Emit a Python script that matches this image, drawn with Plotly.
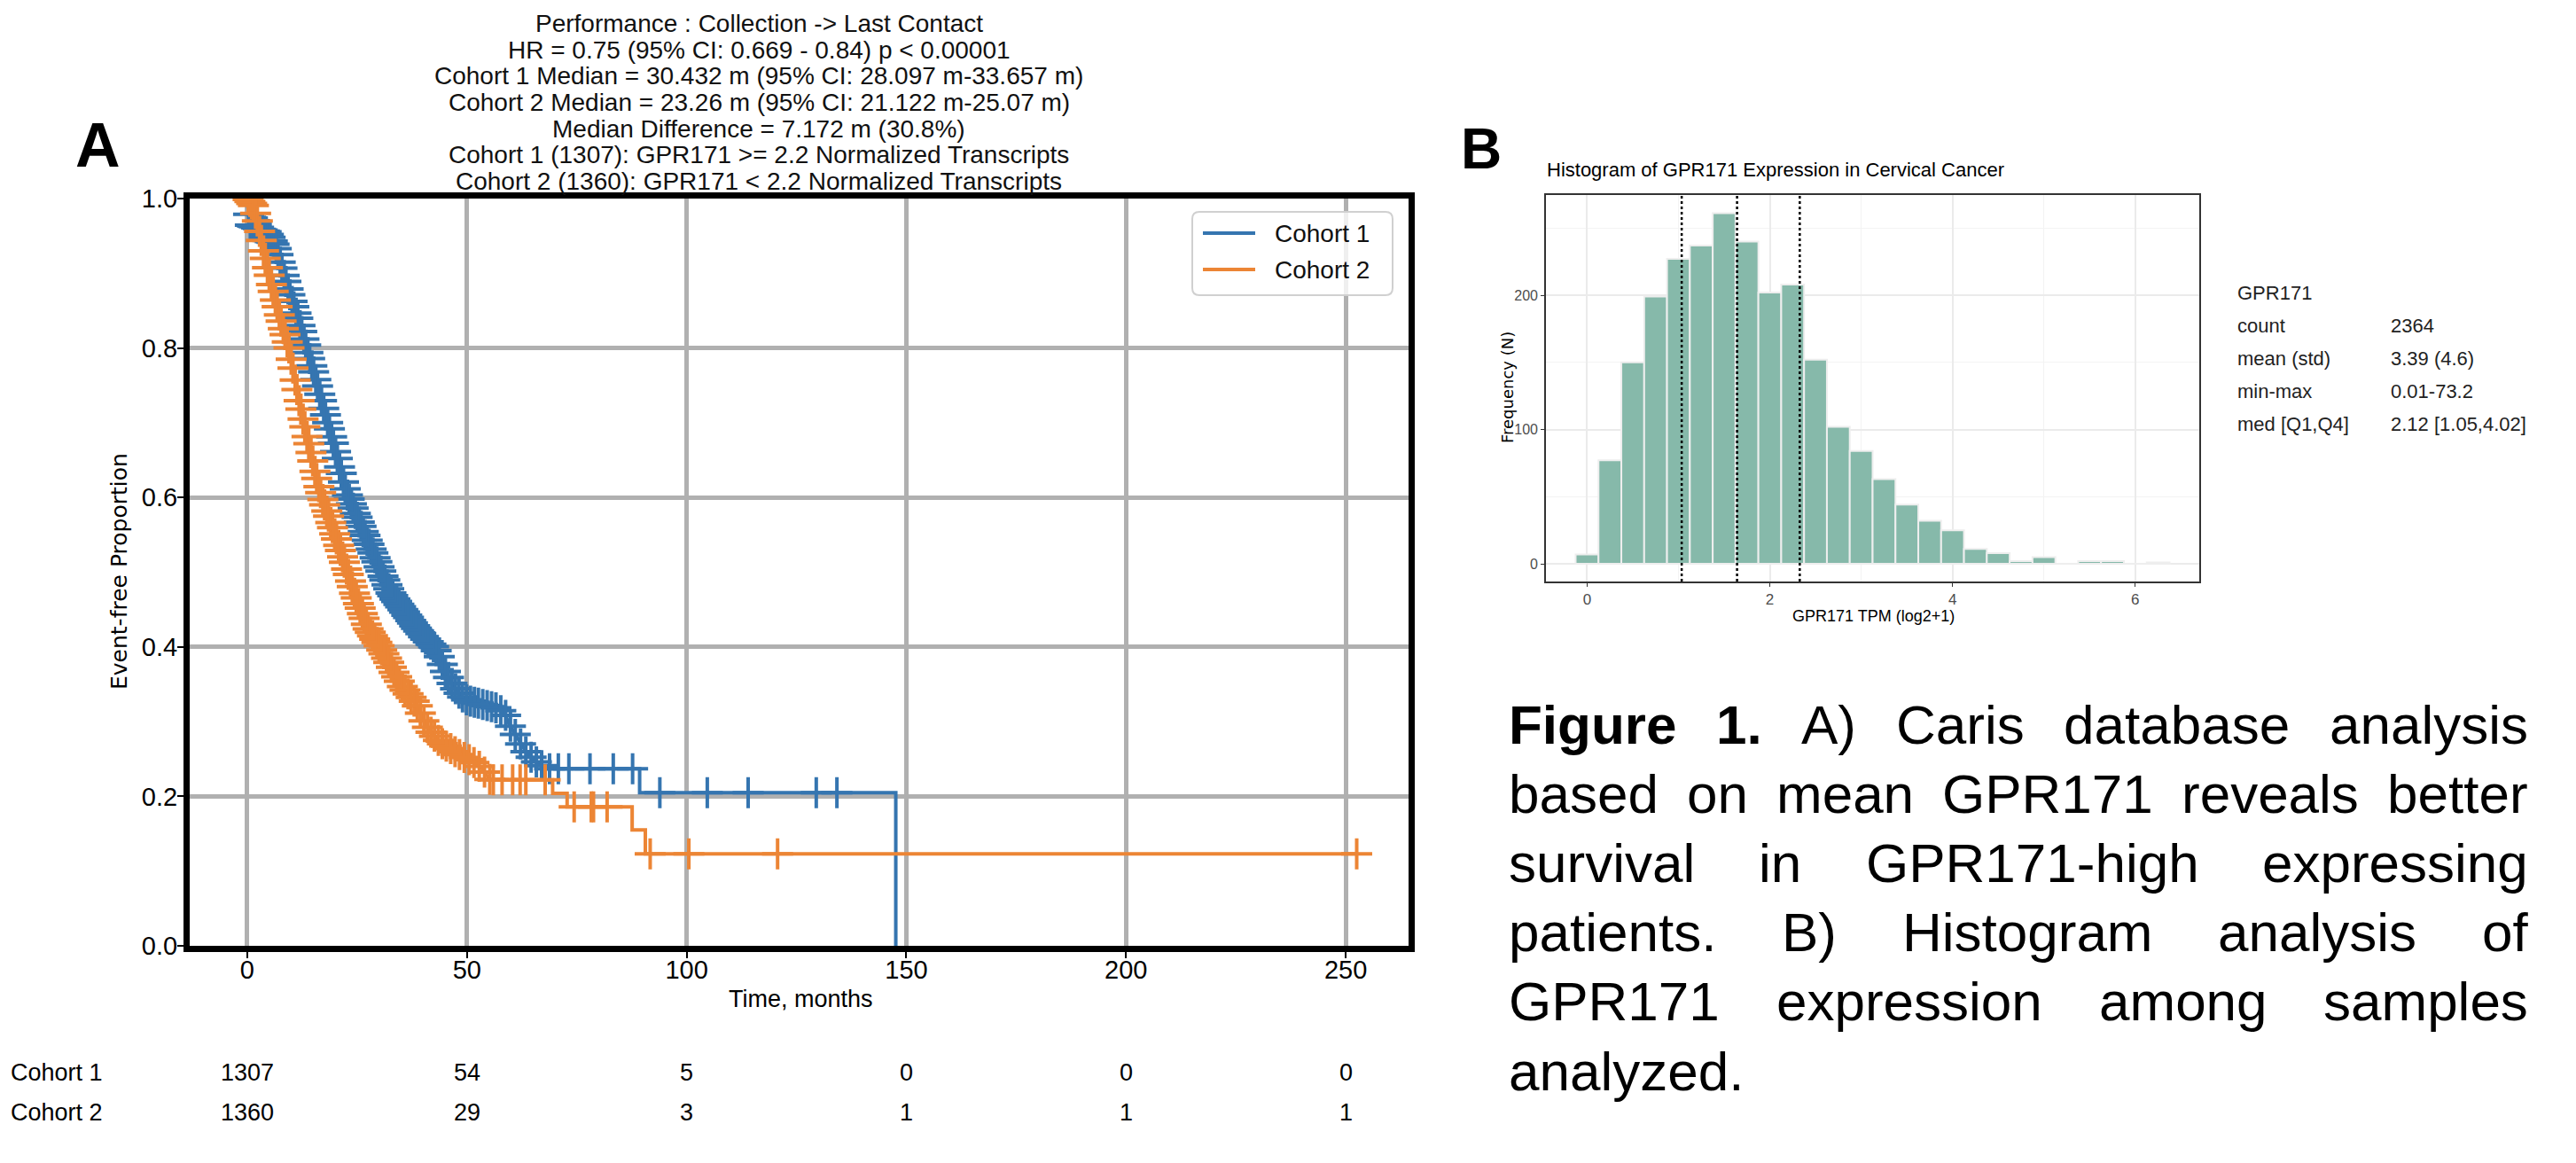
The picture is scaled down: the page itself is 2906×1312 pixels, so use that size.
import numpy as np
import plotly.graph_objects as go

W, H = 2906, 1312
OFF = 8                      # page body margin of the html page
FW, FH = W - OFF, H - OFF    # figure size so that the figure fills the window

# ---------------- Kaplan-Meier curves (vertices) ----------------
c1_t = [0, 0.5, 4.5, 5.5, 6.5, 7.5, 8.5, 9.5, 10.5, 11.5, 12.5, 13.5, 14.5, 15.5, 16.5, 17.5, 18.5,
        19.5, 20.5, 21.5, 22.5, 23.5, 24.5, 25.5, 26.5, 27.5, 28.5, 29.5, 30.5, 31.5, 32.5, 33.5, 34.5,
        35.5, 36.5, 37.5, 38.5, 39.5, 40.5, 41.5, 42.5, 43.5, 44.5, 45.5, 46.5, 47.5, 48.5, 49.5, 51.0,
        53.0, 55.0, 57.0, 58.7, 59.5, 60.5, 61.5, 62.5, 63.5, 64.5, 65.8, 67.0, 68.0,
        89.3, 89.3, 147.6, 147.6]
c1_s = [1.0, 0.965, 0.955, 0.945, 0.935, 0.915, 0.895, 0.875, 0.857, 0.84, 0.82, 0.80, 0.78, 0.76,
        0.738, 0.717, 0.696, 0.675, 0.652, 0.63, 0.607, 0.594, 0.58, 0.567, 0.553, 0.54, 0.527, 0.514,
        0.50, 0.487, 0.474, 0.465, 0.457, 0.449, 0.441, 0.433, 0.425, 0.418, 0.411, 0.405, 0.40, 0.39,
        0.375, 0.362, 0.352, 0.343, 0.336, 0.33, 0.327, 0.324, 0.321, 0.318, 0.31, 0.298, 0.288, 0.278,
        0.267, 0.259, 0.253, 0.246, 0.241, 0.237,
        0.237, 0.205, 0.205, 0.0]

c2_t = [0, 1.5, 2.5, 3.5, 4.5, 5.5, 6.5, 7.5, 8.5, 9.5, 10.5, 11.5, 12.5, 13.5, 14.5, 15.5, 16.5,
        17.5, 18.5, 19.5, 20.5, 21.5, 22.5, 23.5, 24.5, 25.5, 26.5, 27.5, 28.5, 29.5, 30.5, 31.5, 32.5,
        33.5, 34.5, 35.5, 36.5, 37.5, 38.5, 39.5, 40.5, 41.5, 42.5, 43.5, 44.5, 46.0, 47.5, 49.0, 50.5,
        52.0, 53.3, 55.3,
        69.5, 69.5, 72.8, 72.8, 87.6, 87.6, 90.6, 90.6, 252.5]
c2_s = [1.0, 0.99, 0.965, 0.935, 0.91, 0.885, 0.862, 0.84, 0.82, 0.80, 0.77, 0.738, 0.71, 0.684, 0.66,
        0.632, 0.61, 0.592, 0.575, 0.558, 0.541, 0.524, 0.506, 0.488, 0.47, 0.455, 0.44, 0.424, 0.415,
        0.406, 0.397, 0.387, 0.376, 0.365, 0.355, 0.345, 0.338, 0.331, 0.324, 0.31, 0.297, 0.288, 0.281,
        0.275, 0.27, 0.265, 0.259, 0.253, 0.249, 0.244, 0.238, 0.222,
        0.222, 0.204, 0.204, 0.186, 0.186, 0.155, 0.155, 0.123, 0.123]

c1_censor_t = [0.3, 0.7, 1.2, 1.6, 2.1, 2.5, 3.0, 3.4, 3.9, 4.3, 4.8, 5.2, 5.7, 6.1, 6.6, 7.0, 7.5, 7.9,
               8.4, 8.8, 9.3, 9.7, 10.2, 10.6, 11.1, 11.5, 12.0, 12.4, 12.9, 13.3, 13.8, 14.2, 14.7, 15.1,
               15.6, 16.0, 16.5, 16.9, 17.4, 17.8, 18.3, 18.7, 19.2, 19.6, 20.1, 20.5, 21.0, 21.4, 21.9,
               22.3, 22.8, 23.2, 23.7, 24.1, 24.6, 25.0, 25.5, 25.9, 26.4, 26.8, 27.3, 27.7, 28.2, 28.6,
               29.1, 29.5, 30.0, 30.4, 30.9, 31.3, 31.8, 32.2, 32.7, 33.1, 33.6, 34.0, 34.5, 34.9, 35.4,
               35.8, 36.3, 36.7, 37.2, 37.6, 38.1, 38.5, 39.0, 39.5, 40.1, 40.6, 41.2, 41.8, 42.4, 43.0,
               43.7, 44.4, 45.1, 45.8, 46.6, 47.4, 48.2, 49.0, 49.9, 50.8, 51.7, 52.6, 53.6, 54.6, 55.6,
               56.6, 57.7, 58.8, 59.9, 61.0, 62.2, 63.4, 64.6, 65.8, 67.0, 68.8, 70.8, 73.2, 78.0, 83.3,
               87.7, 93.9, 104.7, 114.0, 129.5, 134.2]
c2_censor_t = [0.2, 0.6, 1.0, 1.4, 1.9, 2.3, 2.8, 3.2, 3.7, 4.1, 4.6, 5.0, 5.5, 5.9, 6.4, 6.8, 7.3, 7.7,
               8.2, 8.6, 9.1, 9.5, 10.0, 10.4, 10.9, 11.3, 11.8, 12.2, 12.7, 13.1, 13.6, 14.0, 14.5, 14.9,
               15.4, 15.8, 16.3, 16.7, 17.2, 17.6, 18.1, 18.5, 19.0, 19.4, 19.9, 20.3, 20.8, 21.2, 21.7,
               22.1, 22.6, 23.0, 23.5, 23.9, 24.4, 24.8, 25.3, 25.7, 26.2, 26.6, 27.1, 27.5, 28.0, 28.5,
               29.0, 29.5, 30.0, 30.6, 31.1, 31.7, 32.2, 32.8, 33.4, 34.0, 34.6, 35.3, 35.9, 36.6, 37.3,
               38.0, 38.7, 39.4, 40.2, 41.0, 41.8, 42.6, 43.5, 44.4, 45.3, 46.3, 47.3, 48.3, 49.4, 50.5,
               51.6, 52.8, 54.0, 55.2, 56.0, 58.0, 60.4, 62.1, 63.4, 67.8, 74.4, 78.3, 78.8, 81.9, 91.7,
               100.5, 120.7, 252.5]

risk_times = [0, 50, 100, 150, 200, 250]
risk_c1 = [1307, 54, 5, 0, 0, 0]
risk_c2 = [1360, 29, 3, 1, 1, 1]
km_yticks = [0.0, 0.2, 0.4, 0.6, 0.8, 1.0]

km_title_lines = [
    "Performance : Collection -> Last Contact",
    "HR = 0.75 (95% CI: 0.669 - 0.84) p < 0.00001",
    "Cohort 1 Median = 30.432 m (95% CI: 28.097 m-33.657 m)",
    "Cohort 2 Median = 23.26 m (95% CI: 21.122 m-25.07 m)",
    "Median Difference = 7.172 m (30.8%)",
    "Cohort 1 (1307): GPR171 >= 2.2 Normalized Transcripts",
    "Cohort 2 (1360): GPR171 < 2.2 Normalized Transcripts",
]
cohort_names = ["Cohort 1", "Cohort 2"]

# ---------------- Histogram data ----------------
hist_bins = [0.0, 0.25, 0.5, 0.75, 1.0, 1.25, 1.5, 1.75, 2.0, 2.25, 2.5, 2.75, 3.0, 3.25, 3.5, 3.75,
             4.0, 4.25, 4.5, 4.75, 5.0, 5.25, 5.5, 5.75, 6.0, 6.25]
hist_counts = [7, 77, 150, 199, 227, 237, 261, 240, 202, 208, 152, 102, 84, 63, 44, 32,
               25, 11, 8, 2, 5, 0, 2, 2, 0, 1]
quantile_tpm = [1.05, 2.12, 4.02]   # Q1, median, Q4 (TPM)
hist_xticks = [0, 2, 4, 6]
hist_yticks = [0, 100, 200]

stats_labels = ["GPR171", "count", "mean (std)", "min-max", "med [Q1,Q4]"]
stats_values = ["", "2364", "3.39 (4.6)", "0.01-73.2", "2.12 [1.05,4.02]"]

caption_lines = [
    [("Figure", True), ("1.", True), ("A)", False), ("Caris", False), ("database", False), ("analysis", False)],
    [(w, False) for w in "based on mean GPR171 reveals better".split()],
    [(w, False) for w in "survival in GPR171-high expressing".split()],
    [(w, False) for w in "patients. B) Histogram analysis of".split()],
    [(w, False) for w in "GPR171 expression among samples".split()],
    [(w, False) for w in "analyzed.".split()],
]

# ---------------- styling ----------------
BLUE = "#3575b0"
ORANGE = "#ec8535"
HIST_FILL = "#86b9aa"
SANS = "Liberation Sans, Arial, sans-serif"
DEJAVU = "DejaVu Sans, sans-serif"


def px(xp):
    return (xp - OFF) / FW


def py(yp):
    return 1 - (yp - OFF) / FH


def on_curve(ts, ss, t):
    return np.interp(np.asarray(t, dtype=float), np.asarray(ts, dtype=float), np.asarray(ss, dtype=float))


fig = go.Figure()

MK = dict(symbol="cross-thin", size=25)
fig.add_trace(go.Scatter(x=c1_t, y=c1_s, mode="lines", line=dict(color=BLUE, width=4),
                         xaxis="x", yaxis="y", showlegend=False, hoverinfo="skip"))
fig.add_trace(go.Scatter(x=c1_censor_t, y=on_curve(c1_t, c1_s, c1_censor_t), mode="markers",
                         marker=dict(**MK, line=dict(color=BLUE, width=4)),
                         xaxis="x", yaxis="y", showlegend=False, hoverinfo="skip"))
fig.add_trace(go.Scatter(x=c2_t, y=c2_s, mode="lines", line=dict(color=ORANGE, width=4),
                         xaxis="x", yaxis="y", showlegend=False, hoverinfo="skip"))
fig.add_trace(go.Scatter(x=c2_censor_t, y=on_curve(c2_t, c2_s, c2_censor_t), mode="markers",
                         marker=dict(**MK, line=dict(color=ORANGE, width=4)),
                         xaxis="x", yaxis="y", showlegend=False, hoverinfo="skip"))

fig.add_trace(go.Bar(x=hist_bins, y=hist_counts, width=0.25,
                     marker=dict(color=HIST_FILL, line=dict(color="#eeeeee", width=2)),
                     xaxis="x2", yaxis="y2", showlegend=False, hoverinfo="skip"))

annotations = []
shapes = []


def note(x, y, text, size, family=SANS, color="black", xanchor="center", angle=0, xref="paper"):
    annotations.append(dict(x=x, y=y, xref=xref, yref="paper", text=text, showarrow=False,
                            xanchor=xanchor, yanchor="middle", textangle=angle,
                            font=dict(family=family, size=size, color=color)))


for i, line in enumerate(km_title_lines):
    note(px(856), py(27 + 29.5 * i), line, 28, color="#111")

note(px(110), py(164), "<b>A</b>", 70)
note(px(1671), py(168), "<b>B</b>", 64)

note(px(903), py(1127), "Time, months", 27)
note(px(134), py(645), "Event-free Proportion", 25, family=DEJAVU, angle=-90)

for name, row, yy in zip(cohort_names, [risk_c1, risk_c2], [1210, 1255]):
    note(px(10), py(yy), name, 27, xanchor="left")
    for t, v in zip(risk_times, row):
        note(t, py(yy), str(v), 27, xref="x")

# legend box
lx0, ly0, lx1, ly1, r = 1345, 239, 1571, 333, 8
pts = [("M", lx0 + r, ly0), ("L", lx1 - r, ly0), ("Q", lx1, ly0, lx1, ly0 + r), ("L", lx1, ly1 - r),
       ("Q", lx1, ly1, lx1 - r, ly1), ("L", lx0 + r, ly1), ("Q", lx0, ly1, lx0, ly1 - r),
       ("L", lx0, ly0 + r), ("Q", lx0, ly0, lx0 + r, ly0)]
path = ""
for p in pts:
    coords = p[1:]
    s = [f"{px(coords[k]):.6f},{py(coords[k + 1]):.6f}" for k in range(0, len(coords), 2)]
    path += p[0] + " " + " ".join(s) + " "
path += "Z"
shapes.append(dict(type="path", path=path, xref="paper", yref="paper",
                   line=dict(color="#d0d0d0", width=2), fillcolor="rgba(255,255,255,0.8)", layer="above"))
for name, col, yy in zip(cohort_names, [BLUE, ORANGE], [263, 304]):
    shapes.append(dict(type="line", x0=px(1357), x1=px(1416), y0=py(yy), y1=py(yy), xref="paper",
                       yref="paper", line=dict(color=col, width=4), layer="above"))
    note(px(1436), py(yy), name, 28, color="#111", xanchor="left")

note(px(1743), py(192), "Histogram of GPR171 Expression in Cervical Cancer", 22, xanchor="left")
note(px(2113), py(695), "GPR171 TPM (log2+1)", 18)
note(px(1700), py(437), "Frequency (N)", 18, family=DEJAVU, angle=-90)

for q in quantile_tpm:
    xv = float(np.log2(q + 1))
    shapes.append(dict(type="line", x0=xv, x1=xv, y0=0, y1=1, xref="x2", yref="y2 domain",
                       line=dict(color="black", width=2.5, dash="dot"), layer="above"))

for i, (lab, val) in enumerate(zip(stats_labels, stats_values)):
    yy = 331 + 37 * i
    note(px(2522), py(yy), lab, 22, color="#222", xanchor="left")
    if val:
        note(px(2695), py(yy), val, 22, color="#222", xanchor="left")

# caption, justified by placing words (Arial metrics)
AR = {' ': 278, '(': 333, ')': 333, '-': 333, '.': 278, ',': 278}
for d in "0123456789":
    AR[d] = 556
AR.update(dict(A=667, B=667, C=722, D=722, E=667, F=611, G=778, H=722, I=278, J=500, K=667, L=556,
               M=833, N=722, O=778, P=667, Q=778, R=722, S=667, T=611, U=722, V=667, W=944, X=667,
               Y=667, Z=611))
AR.update(dict(a=556, b=556, c=500, d=556, e=556, f=278, g=556, h=556, i=222, j=222, k=500, l=222,
               m=833, n=556, o=556, p=556, q=556, r=333, s=500, t=278, u=556, v=500, w=722, x=500,
               y=500, z=500))
ARB = dict(AR)
ARB.update(dict(F=611, i=278, g=611, u=611, r=389, e=556))
CAP_SIZE = 62
CL, CR = 1700, 2850


def word_width(wd, bold):
    tbl = ARB if bold else AR
    return sum(tbl.get(ch, 556) for ch in wd) * CAP_SIZE / 1000.0


for li, words in enumerate(caption_lines):
    yy = 817 + 78.2 * li
    widths = [word_width(wd, b) for wd, b in words]
    last = li == len(caption_lines) - 1
    if len(words) > 1 and not last:
        gap = (CR - CL - sum(widths)) / (len(words) - 1)
    else:
        gap = AR[' '] * CAP_SIZE / 1000.0
    xx = CL
    for (wd, b), ww in zip(words, widths):
        note(px(xx), py(yy), (f"<b>{wd}</b>" if b else wd), CAP_SIZE, xanchor="left")
        xx += ww + gap

fig.update_layout(
    width=FW, height=FH, margin=dict(l=0, r=0, t=0, b=0, autoexpand=False),
    paper_bgcolor="white", plot_bgcolor="white", showlegend=False,
    xaxis=dict(domain=[px(214), px(1589)], range=[-13.1, 264.3], anchor="y", automargin=False,
               tickvals=risk_times, showgrid=True, gridcolor="#b0b0b0", gridwidth=5, zeroline=False,
               showline=True, mirror=True, linecolor="black", linewidth=7,
               ticks="outside", ticklen=7, tickwidth=2, tickcolor="black", ticklabelstandoff=-12,
               tickfont=dict(family=SANS, size=29, color="black")),
    yaxis=dict(domain=[py(1067), py(224)], range=[0, 1], anchor="x", automargin=False,
               tickvals=km_yticks, tickformat=".1f", showgrid=True, gridcolor="#b0b0b0", gridwidth=5,
               zeroline=False, showline=True, mirror=True, linecolor="black", linewidth=7,
               ticks="outside", ticklen=7, tickwidth=2, tickcolor="black", ticklabelstandoff=-6,
               tickfont=dict(family=SANS, size=29, color="black")),
    xaxis2=dict(domain=[px(1744), px(2481)], range=[-0.45, 6.70], anchor="y2", automargin=False,
                tickvals=hist_xticks, showgrid=True, gridcolor="#ebebeb", gridwidth=1.6, zeroline=False,
                minor=dict(tickvals=[1, 3, 5], showgrid=True, gridcolor="#f3f3f3", gridwidth=1),
                showline=True, mirror=True, linecolor="#333333", linewidth=1.6,
                ticks="outside", ticklen=4, tickwidth=1.4, tickcolor="#333333",
                tickfont=dict(family=SANS, size=17, color="#4d4d4d")),
    yaxis2=dict(domain=[py(656), py(220)], range=[-13.2, 274.6], anchor="x2", automargin=False,
                tickvals=hist_yticks, showgrid=True, gridcolor="#ebebeb", gridwidth=1.6, zeroline=False,
                minor=dict(tickvals=[50, 150, 250], showgrid=True, gridcolor="#f3f3f3", gridwidth=1),
                showline=True, mirror=True, linecolor="#333333", linewidth=1.6,
                ticks="outside", ticklen=4, tickwidth=1.4, tickcolor="#333333",
                tickfont=dict(family=SANS, size=16, color="#4d4d4d")),
    annotations=annotations, shapes=shapes,
)

fig.write_html("out.html")
